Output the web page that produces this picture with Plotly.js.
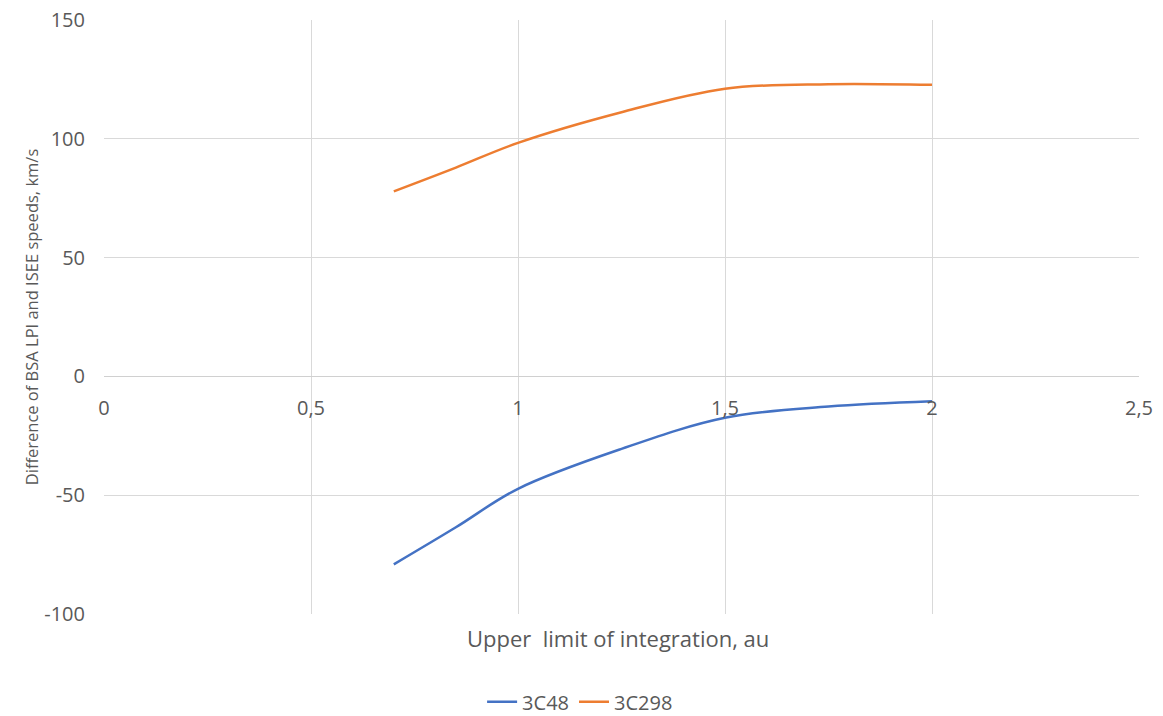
<!DOCTYPE html>
<html>
<head>
<meta charset="utf-8">
<script src="https://cdn.plot.ly/plotly-3.0.1.min.js"></script>
<style>html,body{margin:0;padding:0;background:#fff;}#chart{width:1163px;height:716px;}</style>
</head>
<body>
<div id="chart"></div>
<script>
const xLimits = [0.7, 0.85, 1, 1.25, 1.5, 1.75, 2];
const series3C48 = [-79.1, -63.5, -47.3, -30.5, -17.4, -12.7, -10.5];
const series3C298 = [77.9, 87.9, 98.3, 111.2, 121.1, 123.0, 122.7];
const xTickVals = [0, 0.5, 1, 1.5, 2, 2.5];
const xTickText = ["0", "0,5", "1", "1,5", "2", "2,5"];
const yTickVals = [-100, -50, 0, 50, 100, 150];
const yTickText = ["-100", "-50", "0", "50", "100", "150"];

const fontFam = "Open Sans, Liberation Sans, sans-serif";
const txtColor = "#595959";
const gridColor = "#d9d9d9";

const traces = [
  {x: xLimits, y: series3C48, name: "3C48", mode: "lines",
   line: {color: "#4472C4", width: 2.5, shape: "spline", smoothing: 1}},
  {x: xLimits, y: series3C298, name: "3C298", mode: "lines",
   line: {color: "#ED7D31", width: 2.5, shape: "spline", smoothing: 1}}
];

const layout = {
  width: 1163, height: 716,
  margin: {l: 104, r: 24, t: 20, b: 102, autoexpand: false},
  paper_bgcolor: "#fff", plot_bgcolor: "#fff",
  font: {family: fontFam, color: txtColor, size: 19},
  separators: ",.",
  showlegend: true,
  legend: {orientation: "h", x: 0.46, xanchor: "center", y: -0.115, yanchor: "top",
           font: {size: 20, color: txtColor}},
  xaxis: {
    range: [0, 2.5], tickvals: xTickVals, ticktext: xTickText,
    anchor: "free", position: (0 - (-100)) / 250,
    showgrid: true, gridcolor: gridColor, gridwidth: 1,
    zeroline: false, showline: false, ticks: "",
    ticklabelstandoff: 18,
    tickfont: {size: 20, color: txtColor}
  },
  yaxis: {
    range: [-100, 150], tickvals: yTickVals, ticktext: yTickText,
    showgrid: true, gridcolor: gridColor, gridwidth: 1,
    zeroline: true, zerolinecolor: "#d0d0d0", zerolinewidth: 1.2,
    showline: false, ticks: "", ticklabelstandoff: 18,
    tickfont: {size: 20, color: txtColor},
    title: {text: "Difference of BSA LPI and ISEE speeds, km/s", standoff: 1,
            font: {size: 16.5, color: txtColor}}
  },
  annotations: [
    {text: "Upper  limit of integration, au", xref: "paper", yref: "paper",
     x: 0.497, y: -0.012, xanchor: "center", yanchor: "top", showarrow: false,
     font: {size: 22, color: txtColor}}
  ]
};

Plotly.newPlot("chart", traces, layout, {displayModeBar: false, staticPlot: true});
</script>
</body>
</html>
